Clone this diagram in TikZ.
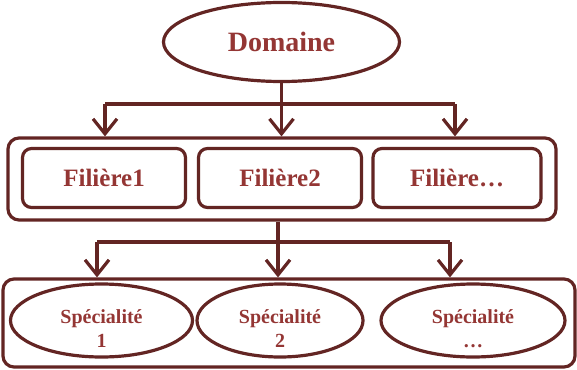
\documentclass[tikz,border=0pt]{standalone}
\usepackage{fontspec}
\setmainfont{Liberation Serif}
\usetikzlibrary{shapes.geometric,arrows.meta,calc}
\definecolor{lineC}{HTML}{632523}
\definecolor{textC}{HTML}{943634}
\begin{document}
\begin{tikzpicture}[x=1pt,y=-1pt,
  ln/.style={draw=lineC,line width=3.2pt},
  conn/.style={draw=lineC,line width=3.2pt,-{Straight Barb[length=15pt,width=24pt,line width=3.2pt]}},
  plain/.style={draw=lineC,line width=3.2pt},
  ell/.style={ellipse,ln,inner sep=0pt,text=textC,font=\bfseries,align=center},
  spectext/.style={text=textC,font=\fontsize{20}{24}\selectfont\bfseries,align=center,inner sep=0pt,anchor=base},
  outerbox/.style={rectangle,ln,rounded corners=11pt,inner sep=0pt},
  filbox/.style={rectangle,ln,rounded corners=9pt,inner sep=0pt,text=textC,font=\fontsize{25}{28}\selectfont\bfseries,minimum height=59pt}]
\useasboundingbox (0,0) rectangle (577,369);
% top ellipse
\node[ell,minimum width=236pt,minimum height=79pt,font=\fontsize{28}{30}\selectfont\bfseries] (dom) at (281.5,42) {Domaine};
% filieres
\node[outerbox,minimum width=548pt,minimum height=82pt] (fo) at (282,179) {};
\node[filbox,minimum width=163pt] (f1) at (104,178) {Filière1};
\node[filbox,minimum width=163pt] (f2) at (280,178) {Filière2};
\node[filbox,minimum width=168pt] (f3) at (457,178) {Filière…};
% specialites
\node[outerbox,minimum width=572pt,minimum height=88pt] (so) at (289,323) {};
\node[ell,minimum width=182pt,minimum height=73pt] (s1) at (101.5,320.5) {};
\node[ell,minimum width=166pt,minimum height=73pt] (s2) at (280,320.5) {};
\node[ell,minimum width=184pt,minimum height=73pt] (s3) at (473,320.5) {};
\node[spectext] (s1t) at (101.5,347) {Spécialité\\1};
\node[spectext] (s2t) at (280,347) {Spécialité\\2};
\node[spectext] (s3t) at (473,347) {Spécialité\\…};
% connectors top
\coordinate (ta) at (105,104);
\coordinate (tb) at (455,104);
\draw[conn] (dom.south) -- (dom.south |- fo.north);
\draw[plain] (ta) -- (tb);
\draw[conn] (ta) -- (ta |- fo.north);
\draw[conn] (tb) -- (tb |- fo.north);
% connectors bottom
\coordinate (ba) at (97,242);
\coordinate (bb) at (450,242);
\coordinate (bm) at (278,242);
\draw[conn] (fo.south -| bm) -- (bm |- so.north);
\draw[plain] (ba) -- (bb);
\draw[conn] (ba) -- (ba |- so.north);
\draw[conn] (bb) -- (bb |- so.north);
\end{tikzpicture}
\end{document}
